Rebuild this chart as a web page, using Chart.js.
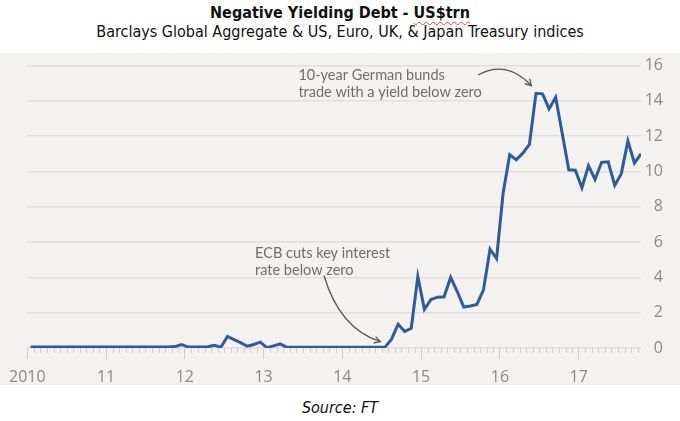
<!DOCTYPE html>
<html>
<head>
<meta charset="utf-8">
<script src="https://cdn.jsdelivr.net/npm/chart.js@4.4.0/dist/chart.umd.min.js"></script>
<style>
  body { margin: 0; width: 680px; height: 421px; background: #fff; position: relative; overflow: hidden;
         font-family: "DejaVu Sans Condensed", "DejaVu Sans", sans-serif; color: #111; }
  #title { position: absolute; top: 3px; left: 0; width: 680px; text-align: center; font-weight: bold; font-size: 16px; }
  #title span { text-decoration: underline wavy #d44; text-decoration-thickness: 1px; text-underline-offset: 3px; }
  #subtitle { position: absolute; top: 22px; left: 0; width: 680px; text-align: center; font-size: 16px; }
  #panel { position: absolute; top: 53px; left: 0; width: 680px; height: 332px; background: #f4f2f1; }
  #source { position: absolute; top: 398px; left: 0; width: 680px; text-align: center; font-style: italic; font-size: 16px; }
</style>
</head>
<body>
<div id="title">Negative Yielding Debt - <span>US$trn</span></div>
<div id="subtitle">Barclays Global Aggregate &amp; US, Euro, UK, &amp; Japan Treasury indices</div>
<div id="panel"><canvas id="chart" width="680" height="332"></canvas></div>
<div id="source">Source: FT</div>
<script>
// year labels on the x axis (one every 12 months, starting Jan 2010)
var yearLabels = ["2010", "11", "12", "13", "14", "15", "16", "17"];

// negative yielding debt, US$trn, monthly from Jan 2010 to Oct 2017
var debt = [
  0.05, 0.05, 0.05, 0.05, 0.05, 0.05, 0.05, 0.05, 0.05, 0.05, 0.05, 0.05,   // 2010
  0.05, 0.05, 0.05, 0.05, 0.05, 0.05, 0.05, 0.05, 0.05, 0.05, 0.08, 0.2,    // 2011
  0.05, 0.05, 0.05, 0.07, 0.15, 0.05, 0.66, 0.48, 0.3, 0.1, 0.2, 0.33,      // 2012
  0.02, 0.12, 0.23, 0.05, 0.04, 0.04, 0.04, 0.04, 0.04, 0.04, 0.04, 0.04,   // 2013
  0.04, 0.04, 0.04, 0.04, 0.04, 0.04, 0.05, 0.5, 1.35, 0.94, 1.12, 4.05,    // 2014
  2.19, 2.75, 2.88, 2.9, 4.0, 3.2, 2.32, 2.38, 2.47, 3.3, 5.6, 5.07,        // 2015
  8.8, 10.95, 10.67, 11.04, 11.54, 14.43, 14.4, 13.55, 14.2, 12.15, 10.1, 10.07, // 2016
  9.08, 10.33, 9.55, 10.52, 10.55, 9.21, 9.88, 11.73, 10.48, 11.0           // 2017
];

// annotations, anchored in data units (x = months since Jan 2010, y = US$trn)
var notes = [
  { lines: ["10-year German bunds", "trade with a yield below zero"], x: 41.3, y: 15.47,
    arrow: { from: [68.7, 15.47], ctrl: [73.0, 16.35], to: [76.8, 14.86] } },
  { lines: ["ECB cuts key interest", "rate below zero"], x: 34.7, y: 5.39,
    arrow: { from: [45.2, 4.11], ctrl: [47.6, 1.09], to: [53.8, 0.36] } }
];

var points = debt.map(function (v, i) { return { x: i + 0.5, y: v }; });

var extras = {
  id: "extras",
  afterDraw: function (chart) {
    var ctx = chart.ctx, x = chart.scales.x, y = chart.scales.y, area = chart.chartArea;
    ctx.save();
    // monthly minor ticks under the zero line
    ctx.strokeStyle = "#d3cecb";
    ctx.lineWidth = 1;
    for (var m = 1; m < debt.length; m++) {
      if (m % 12 === 0) continue;
      var px = Math.round(x.getPixelForValue(m)) + 0.5;
      ctx.beginPath();
      ctx.moveTo(px, area.bottom);
      ctx.lineTo(px, area.bottom + 5);
      ctx.stroke();
    }
    // notes and arrows
    ctx.font = "14.5px Lato";
    ctx.fillStyle = "#6e6e6e";
    ctx.textBaseline = "middle";
    ctx.textAlign = "left";
    notes.forEach(function (n) {
      var tx = x.getPixelForValue(n.x), ty = y.getPixelForValue(n.y);
      n.lines.forEach(function (line, i) { ctx.fillText(line, tx, ty + i * 17); });
      var a = n.arrow;
      var p0 = [x.getPixelForValue(a.from[0]), y.getPixelForValue(a.from[1])];
      var c = [x.getPixelForValue(a.ctrl[0]), y.getPixelForValue(a.ctrl[1])];
      var p1 = [x.getPixelForValue(a.to[0]), y.getPixelForValue(a.to[1])];
      ctx.strokeStyle = "#555";
      ctx.lineWidth = 1.3;
      ctx.beginPath();
      ctx.moveTo(p0[0], p0[1]);
      ctx.quadraticCurveTo(c[0], c[1], p1[0], p1[1]);
      ctx.stroke();
      var ang = Math.atan2(p1[1] - c[1], p1[0] - c[0]);
      ctx.beginPath();
      ctx.moveTo(p1[0] - 7 * Math.cos(ang - 0.5), p1[1] - 7 * Math.sin(ang - 0.5));
      ctx.lineTo(p1[0], p1[1]);
      ctx.lineTo(p1[0] - 7 * Math.cos(ang + 0.5), p1[1] - 7 * Math.sin(ang + 0.5));
      ctx.stroke();
    });
    ctx.restore();
  }
};

new Chart(document.getElementById("chart"), {
  type: "line",
  data: {
    datasets: [{
      data: points,
      borderColor: "#2f5b9b",
      borderWidth: 3,
      pointRadius: 0,
      tension: 0,
      fill: false
    }]
  },
  options: {
    responsive: false,
    animation: false,
    events: [],
    layout: { padding: { left: 24, right: 17, top: 5, bottom: 0 } },
    plugins: { legend: { display: false }, tooltip: { enabled: false } },
    scales: {
      x: {
        type: "linear",
        min: 0,
        max: 93.5,
        afterBuildTicks: function (s) {
          s.ticks = yearLabels.map(function (l, i) { return { value: i * 12 }; });
        },
        afterFit: function (s) { s.height = 37; },
        ticks: {
          autoSkip: false,
          maxRotation: 0,
          padding: 9,
          color: "#8c8884",
          font: { family: "Open Sans", size: 16 },
          callback: function (v) { return yearLabels[v / 12]; }
        },
        grid: { drawOnChartArea: false, tickLength: 11, tickColor: "#cfcac6" },
        border: { display: false }
      },
      y: {
        position: "right",
        min: 0,
        max: 16,
        afterFit: function (s) { s.width = 22; },
        ticks: {
          stepSize: 2,
          crossAlign: "far",
          color: "#8c8884",
          font: { family: "Open Sans", size: 16 }
        },
        grid: { color: "#e2dedb", lineWidth: 1.5, drawTicks: false },
        border: { display: false }
      }
    }
  },
  plugins: [extras]
});
</script>
</body>
</html>
